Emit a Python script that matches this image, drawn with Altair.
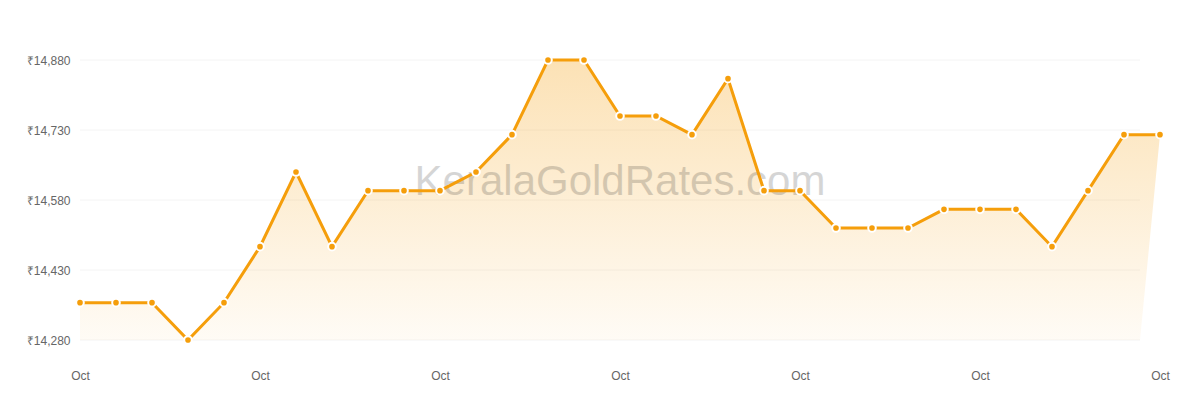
import altair as alt
import pandas as pd

# ---- data ----
days = list(range(1, 32))
prices = [14360, 14360, 14360, 14280, 14360, 14480, 14640, 14480, 14600, 14600,
          14600, 14640, 14720, 14880, 14880, 14760, 14760, 14720, 14840, 14600,
          14600, 14520, 14520, 14520, 14560, 14560, 14560, 14480, 14600, 14720,
          14720]
month_label = "Oct"
x_ticks = [1, 6, 11, 16, 21, 26, 31]
y_ticks = [14280, 14430, 14580, 14730, 14880]
watermark = ["KeralaGoldRates.com"]

W, H = 1080, 280
GRID_END = 1060  # grid lines / fill baseline stop short of the last point

base_price = y_ticks[0]
fill_end_day = days[0] + (days[-1] - days[0]) * GRID_END / W

df = pd.DataFrame({"day": days, "price": prices})
poly = pd.DataFrame({
    "day": days + [fill_end_day, days[0]],
    "price": prices + [base_price, base_price],
    "idx": list(range(len(days) + 2)),
})
grid_df = pd.DataFrame({"price": y_ticks})
wm_df = pd.DataFrame({"t": watermark})

xscale = alt.Scale(domain=[days[0], days[-1]], nice=False, zero=False)
yscale = alt.Scale(domain=[y_ticks[0], y_ticks[-1]], nice=False, zero=False)

xaxis = alt.Axis(values=x_ticks, labelExpr=f"'{month_label}'", ticks=False, tickSize=0,
                 domain=False, grid=False, labelPadding=30, labelFontSize=12,
                 labelColor="#666666", labelFont="Liberation Sans", labelFlush=False,
                 labelOverlap=False, title=None)
yaxis = alt.Axis(values=y_ticks, labelExpr="'₹' + format(datum.value, ',')", ticks=False,
                 tickSize=0, domain=False, grid=False, labelPadding=10, labelFontSize=12,
                 labelColor="#666666", labelFont="Liberation Sans", title=None)

X = alt.X("day:Q", scale=xscale, axis=xaxis)
Y = alt.Y("price:Q", scale=yscale, axis=yaxis)

grid = alt.Chart(grid_df).mark_rule(color="#f4f4f4", strokeWidth=1).encode(
    y=Y, x=alt.value(0), x2=alt.value(GRID_END)
)

gradient = alt.Gradient(
    gradient="linear",
    stops=[alt.GradientStop(color="rgba(245,158,11,0.30)", offset=0),
           alt.GradientStop(color="rgba(245,158,11,0.04)", offset=1)],
    x1=0, x2=0, y1=0, y2=1,
)

area = alt.Chart(poly).mark_line(fill=gradient, strokeOpacity=0, strokeWidth=0).encode(
    x=X, y=Y, order=alt.Order("idx:Q")
)

wm = alt.Chart(wm_df).mark_text(
    font="Liberation Sans", fontSize=42, color="#000000", opacity=0.16,
    align="center", baseline="alphabetic"
).encode(text="t:N", x=alt.value(W / 2), y=alt.value(135))

line = alt.Chart(df).mark_line(color="#f59e0b", strokeWidth=3).encode(x=X, y=Y)

points = alt.Chart(df).mark_circle(
    size=58, color="#f59e0b", stroke="#ffffff", strokeWidth=2, opacity=1
).encode(x=X, y=Y)

chart = alt.layer(grid, area, wm, line, points).properties(
    width=W, height=H,
    autosize=alt.AutoSizeParams(type="none"),
    padding={"left": 72, "top": 52, "right": 20, "bottom": 52},
    background="#ffffff",
).configure_view(stroke=None)

chart.save("out.html", embed_options={"renderer": "svg", "actions": False})
